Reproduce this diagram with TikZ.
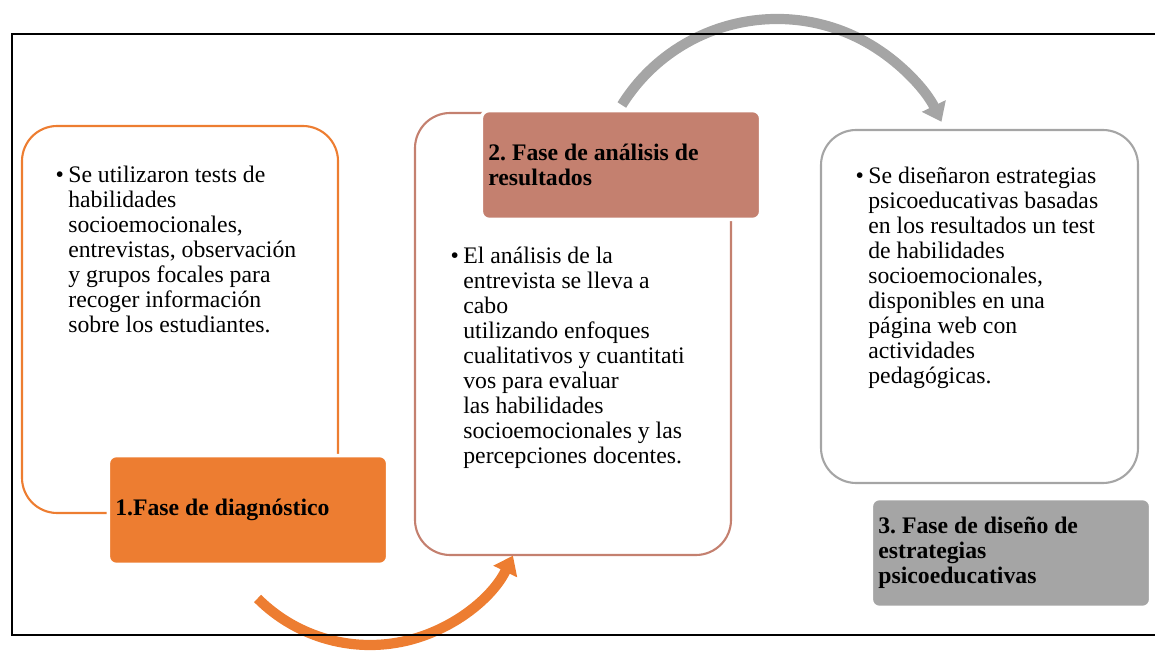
\documentclass[tikz,border=0pt]{standalone}
\usepackage{fontspec}
\setmainfont{Liberation Serif}
\usetikzlibrary{arrows.meta}
\definecolor{diagcol}{HTML}{ED7D31}
\definecolor{analcol}{HTML}{C4806F}
\definecolor{disecol}{HTML}{A5A5A5}
\newcommand{\fasefont}{\fontsize{13.5}{14.2}\selectfont\frenchspacing}
\newcommand{\vineta}{\llap{\textbullet\hspace{2.5pt}}}
\tikzset{fasebox/.style={rounded corners=20pt, line width=1.2pt},
  faselbl/.style={rounded corners=4.5pt, draw=white, line width=2pt, minimum width=159pt, minimum height=62pt,
    text width=151pt, inner xsep=3.5pt, align=flush left, font=\fasefont\bfseries},
  fasetxt/.style={anchor=north west, inner sep=0pt, align=left, font=\fasefont},
  ciclo/.style={line width=5.8pt, -{Triangle[length=10pt,width=14.5pt]}}}

\begin{document}
\begin{tikzpicture}[x=0.02cm, y=-0.02cm]
\clip (0,0) rectangle (1155,651);
\draw[fasebox, diagcol] (22,126) rectangle (338,513);
\draw[fasebox, analcol] (415,113) rectangle (731,555);
\draw[fasebox, disecol] (821,130) rectangle (1138,483);
\node (diag) [faselbl, fill=diagcol] at (248,510) {1.Fase de diagnóstico};
\node (anal) [faselbl, fill=analcol] at (621,165) {2. Fase de análisis de\\resultados};
\node (dise) [faselbl, fill=disecol] at (1011,553) {3. Fase de diseño de\\estrategias\\psicoeducativas};
\node (diagtxt) [fasetxt] at (68,166) {\vineta Se utilizaron tests de\\habilidades\\socioemocionales,\\entrevistas, observación\\y grupos focales para\\recoger información\\sobre los estudiantes.};
\node (analtxt) [fasetxt] at (463,247) {\vineta El análisis de la\\entrevista se lleva a\\cabo\\utilizando enfoques\\cualitativos y cuantitati\\vos para evaluar\\las habilidades\\socioemocionales y las\\percepciones docentes.};
\node (disetxt) [fasetxt] at (868,167) {\vineta Se diseñaron estrategias\\psicoeducativas basadas\\en los resultados un test\\de habilidades\\socioemocionales,\\disponibles en una\\página web con\\actividades\\pedagógicas.};
\coordinate (gA) at (370,486);
\coordinate (gB) at (777,202);
\draw[ciclo, diagcol] (gA) ++(135:159) arc[start angle=135, end angle=26, radius=159];
\draw[ciclo, disecol] (gB) ++(212:183) arc[start angle=212, end angle=334, radius=183];
\draw[line width=1.2pt] (12,34) rectangle (1175,635);
\end{tikzpicture}
\end{document}
